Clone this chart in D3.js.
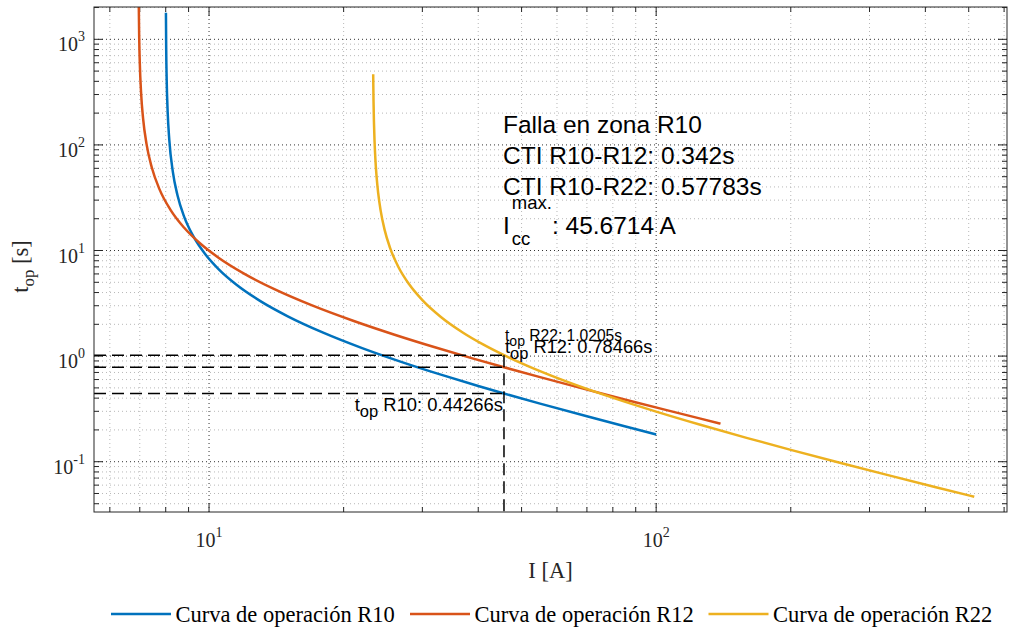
<!DOCTYPE html>
<html>
<head>
<meta charset="utf-8">
<script src="https://cdn.jsdelivr.net/npm/d3@7"></script>
<style>
  html, body { margin: 0; padding: 0; background: #fff; }
  svg { display: block; }
</style>
</head>
<body>
<svg id="chart" width="1010" height="632"></svg>
<script>
// ---------------- DATA ----------------
const seriesNames = ["Curva de operación R10", "Curva de operación R12", "Curva de operación R22"];
const seriesColors = ["#0072BD", "#D95319", "#EDB120"];

// R10 curve: current [A] and operating time [s]
const r10Current = [8.0094, 8.02, 8.04, 8.08, 8.15, 8.3, 8.5, 8.8, 9.2, 9.8, 10.5, 11.5, 13, 15, 18, 22, 27, 33, 40, 45.6714, 55, 70, 85, 100];
const r10Time    = [1780, 833.8, 416.9, 208.4, 111.2, 55.58, 33.35, 20.84, 13.90, 9.264, 6.670, 4.764, 3.335, 2.382, 1.668, 1.191, 0.8777, 0.6670, 0.5211, 0.44266, 0.3548, 0.2690, 0.2166, 0.1813];

// R12 curve
const r12Current = [6.96, 6.965, 6.98, 7.0, 7.05, 7.12, 7.25, 7.45, 7.75, 8.2, 8.8, 9.6, 10.5, 12, 14, 17, 21, 26, 32, 39, 45.6714, 55, 68, 85, 105, 125, 139.3];
const r12Time    = [3035, 2024, 1011.8, 607.1, 303.6, 178.6, 101.2, 60.71, 37.94, 24.28, 16.41, 11.455, 8.551, 6.011, 4.306, 3.020, 2.161, 1.5935, 1.2118, 0.9471, 0.78466, 0.6318, 0.4972, 0.3889, 0.3096, 0.2571, 0.2294];

// R22 curve
const r22Current = [23.289, 23.30, 23.33, 23.38, 23.45, 23.55, 23.7, 23.9, 24.2, 24.7, 25.4, 26.5, 28, 30, 33, 37, 41, 45.6714, 52, 60, 70, 85, 100, 125, 160, 200, 260, 330, 420, 514.5];
const r22Time    = [467.2, 381.5, 254.4, 163.5, 109.0, 73.84, 49.76, 34.68, 23.85, 15.68, 10.598, 7.022, 4.809, 3.386, 2.345, 1.6636, 1.2889, 1.0205, 0.7960, 0.6227, 0.4896, 0.3707, 0.2982, 0.2250, 0.1674, 0.1295, 0.09669, 0.07462, 0.05770, 0.04660];

// Fault current and operating times at that current
const faultCurrent = 45.6714;
const opTimes = [0.44266, 0.78466, 1.0205];  // R10, R12, R22
const opLabels = ["R10: 0.44266s", "R12: 0.78466s", "R22: 1.0205s"];

// Info box
const infoLines = ["Falla en zona R10", "CTI R10-R12: 0.342s", "CTI R10-R22: 0.57783s"];
const iccText = ": 45.6714 A";

// Axis limits and ticks
const xLimits = [5.53, 609];
const yLimits = [0.0334, 2023];
const xMajorTicks = [10, 100];
const xMajorExp = ["1", "2"];
const yMajorTicks = [0.1, 1, 10, 100, 1000];
const yMajorExp = ["-1", "0", "1", "2", "3"];
const xMinorTicks = [6, 7, 8, 9, 20, 30, 40, 50, 60, 70, 80, 90, 200, 300, 400, 500, 600];
const yMinorTicks = [0.04, 0.05, 0.06, 0.07, 0.08, 0.09, 0.2, 0.3, 0.4, 0.5, 0.6, 0.7, 0.8, 0.9,
                     2, 3, 4, 5, 6, 7, 8, 9, 20, 30, 40, 50, 60, 70, 80, 90, 200, 300, 400, 500, 600, 700, 800, 900, 2000];
const xLabel = "I [A]";

// ---------------- DRAWING ----------------
const svg = d3.select("#chart");
const L = 94, R = 1007, T = 7, B = 512;
const x = d3.scaleLog().domain(xLimits).range([L, R]);
const y = d3.scaleLog().domain(yLimits).range([B, T]);
const axisColor = "#262626";
const serif = "'Liberation Serif', 'Times New Roman', serif";
const sans = "'Liberation Sans', Arial, Helvetica, sans-serif";

svg.append("rect").attr("x", L).attr("y", T).attr("width", R - L).attr("height", B - T).attr("fill", "#fff");

svg.append("defs").append("clipPath").attr("id", "clip")
  .append("rect").attr("x", L).attr("y", T).attr("width", R - L).attr("height", B - T);

// grid
const grid = svg.append("g");
grid.selectAll(".xminor").data(xMinorTicks).join("line")
  .attr("x1", d => x(d)).attr("x2", d => x(d)).attr("y1", T).attr("y2", B)
  .attr("stroke", "#b8b8b8").attr("stroke-width", 1).attr("stroke-dasharray", "1,3");
grid.selectAll(".yminor").data(yMinorTicks).join("line")
  .attr("x1", L).attr("x2", R).attr("y1", d => y(d)).attr("y2", d => y(d))
  .attr("stroke", "#b8b8b8").attr("stroke-width", 1).attr("stroke-dasharray", "1,3");
grid.selectAll(".xmajor").data(xMajorTicks).join("line")
  .attr("x1", d => x(d)).attr("x2", d => x(d)).attr("y1", T).attr("y2", B)
  .attr("stroke", "#333").attr("stroke-width", 1).attr("stroke-dasharray", "1,3");
grid.selectAll(".ymajor").data(yMajorTicks).join("line")
  .attr("x1", L).attr("x2", R).attr("y1", d => y(d)).attr("y2", d => y(d))
  .attr("stroke", "#333").attr("stroke-width", 1).attr("stroke-dasharray", "1,3");

// ticks (inward, on all four sides)
const tickG = svg.append("g").attr("stroke", axisColor).attr("stroke-width", 1);
function xTicks(vals, len) {
  vals.forEach(v => {
    tickG.append("line").attr("x1", x(v)).attr("x2", x(v)).attr("y1", B).attr("y2", B - len);
    tickG.append("line").attr("x1", x(v)).attr("x2", x(v)).attr("y1", T).attr("y2", T + len);
  });
}
function yTicks(vals, len) {
  vals.forEach(v => {
    tickG.append("line").attr("x1", L).attr("x2", L + len).attr("y1", y(v)).attr("y2", y(v));
    tickG.append("line").attr("x1", R).attr("x2", R - len).attr("y1", y(v)).attr("y2", y(v));
  });
}
xTicks(xMajorTicks, 9); xTicks(xMinorTicks, 5);
yTicks(yMajorTicks, 9); yTicks(yMinorTicks, 5);

// curves
const line = d3.line().x(d => x(d[0])).y(d => y(d[1])).curve(d3.curveMonotoneX);
const curves = [
  d3.zip(r10Current, r10Time),
  d3.zip(r12Current, r12Time),
  d3.zip(r22Current, r22Time)
];
const curveG = svg.append("g").attr("clip-path", "url(#clip)");
curves.forEach((c, i) => {
  curveG.append("path").datum(c).attr("d", line)
    .attr("fill", "none").attr("stroke", seriesColors[i]).attr("stroke-width", 2.5)
    .attr("stroke-linejoin", "round");
});

// dashed guide lines
const dashG = svg.append("g").attr("stroke", "#000").attr("stroke-width", 1.5)
  .attr("stroke-dasharray", "12,6").attr("fill", "none");
opTimes.forEach(t => {
  dashG.append("line").attr("x1", L).attr("x2", x(faultCurrent)).attr("y1", y(t)).attr("y2", y(t));
});
dashG.append("line").attr("x1", x(faultCurrent)).attr("x2", x(faultCurrent))
  .attr("y1", y(d3.max(opTimes))).attr("y2", B);

// axes box
svg.append("rect").attr("x", L).attr("y", T).attr("width", R - L).attr("height", B - T)
  .attr("fill", "none").attr("stroke", axisColor).attr("stroke-width", 1);

// operating-time labels
function topLabel(xp, yp, txt, size, anchor) {
  const t = svg.append("text").attr("x", xp).attr("y", yp)
    .attr("font-family", sans).attr("font-size", size).attr("fill", "#000")
    .attr("text-anchor", anchor);
  t.append("tspan").text("t");
  t.append("tspan").attr("dy", size * 0.32).attr("font-size", size * 0.9).text("op");
  t.append("tspan").attr("dy", -size * 0.32).text(" " + txt);
  return t;
}
const fx = x(faultCurrent);
topLabel(fx + 1, y(opTimes[2]) - 14, opLabels[2], 15.6, "start");
topLabel(fx + 1, y(opTimes[1]) - 14, opLabels[1], 18.3, "start");
topLabel(fx - 1, y(opTimes[0]) + 18, opLabels[0], 18.4, "end");

// info text
const infoX = 503;
const infoSize = 24.5;
infoLines.forEach((s, i) => {
  svg.append("text").attr("x", infoX).attr("y", 132.5 + i * 31.2)
    .attr("font-family", sans).attr("font-size", infoSize).attr("fill", "#000").text(s);
});
const iT = svg.append("text").attr("x", infoX).attr("y", 233.5)
  .attr("font-family", sans).attr("font-size", infoSize).attr("fill", "#000").text("I");
const iW = iT.node().getComputedTextLength();
const sup = svg.append("text").attr("x", infoX + iW + 2).attr("y", 209)
  .attr("font-family", sans).attr("font-size", 18.5).attr("fill", "#000").text("max.");
const sub = svg.append("text").attr("x", infoX + iW + 2).attr("y", 244.5)
  .attr("font-family", sans).attr("font-size", 18.5).attr("fill", "#000").text("cc");
const supEnd = infoX + iW + 2 + Math.max(sup.node().getComputedTextLength(), sub.node().getComputedTextLength());
svg.append("text").attr("x", supEnd).attr("y", 233.5)
  .attr("font-family", sans).attr("font-size", infoSize).attr("fill", "#000").text(iccText);

// tick labels
xMajorTicks.forEach((v, i) => {
  const t = svg.append("text").attr("x", x(v)).attr("y", 546.5).attr("text-anchor", "middle")
    .attr("font-family", serif).attr("font-size", 20).attr("fill", axisColor);
  t.append("tspan").text("10");
  t.append("tspan").attr("dy", -10).attr("font-size", 14).text(xMajorExp[i]);
});
yMajorTicks.forEach((v, i) => {
  const t = svg.append("text").attr("x", 85).attr("y", y(v) + 12).attr("text-anchor", "end")
    .attr("font-family", serif).attr("font-size", 20).attr("fill", axisColor);
  t.append("tspan").text("10");
  t.append("tspan").attr("dy", -10).attr("font-size", 14).text(yMajorExp[i]);
});

// axis labels
svg.append("text").attr("x", (L + R) / 2).attr("y", 578).attr("text-anchor", "middle")
  .attr("font-family", serif).attr("font-size", 22.5).attr("fill", axisColor).text(xLabel);
const yl = svg.append("text").attr("transform", "translate(28,266.5) rotate(-90)")
  .attr("text-anchor", "middle").attr("font-family", serif).attr("font-size", 22.5).attr("fill", axisColor);
yl.append("tspan").text("t");
yl.append("tspan").attr("dy", 6).attr("font-size", 17).text("op");
yl.append("tspan").attr("dy", -6).text(" [s]");

// legend
const legendLineX = [111, 410, 708.5];
const legG = svg.append("g");
seriesNames.forEach((n, i) => {
  legG.append("line").attr("x1", legendLineX[i]).attr("x2", legendLineX[i] + 60)
    .attr("y1", 614).attr("y2", 614).attr("stroke", seriesColors[i]).attr("stroke-width", 2.5);
  legG.append("text").attr("x", legendLineX[i] + 64.5).attr("y", 621.5)
    .attr("font-family", serif).attr("font-size", 22.5).attr("fill", "#000").text(n);
});
</script>
</body>
</html>
